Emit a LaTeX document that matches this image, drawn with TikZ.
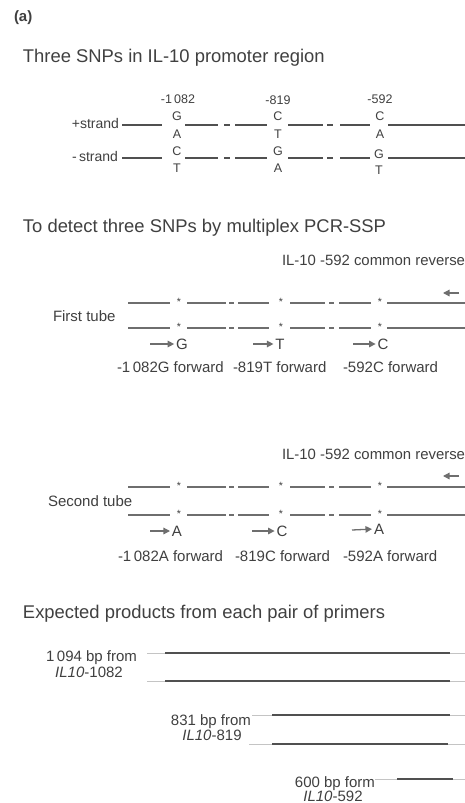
\documentclass[tikz,border=0pt]{standalone}
\usepackage{fontspec}
\setmainfont{Liberation Sans}
\usetikzlibrary{arrows.meta}
\definecolor{txtc}{HTML}{404040}
\definecolor{linec}{HTML}{505050}
\definecolor{tubec}{HTML}{6E6E6E}
\definecolor{faintc}{HTML}{C4C4C4}
\newcommand\myfs[1]{\fontsize{#1}{#1}\selectfont}
\begin{document}
\begin{tikzpicture}[x=1pt,y=-1pt,
  every node/.style={inner sep=0pt,outer sep=0pt,text=txtc},
  ttl/.style={anchor=base west,font=\myfs{18.4}},
  lbl/.style={font=\myfs{15}},
  nuc/.style={font=\myfs{12.5}},
  strl/.style={anchor=base east,font=\myfs{14}},
  star/.style={font=\myfs{10.5},anchor=base},
  sline/.style={draw=linec,line width=1.1pt},
  tline/.style={draw=tubec,line width=1.6pt},
  pline/.style={draw=linec,line width=1.5pt},
  fline/.style={draw=faintc,line width=1pt},
  fwd/.style={draw=tubec,line width=1.3pt,-{Triangle[length=6.5pt,width=6.5pt]},shorten >=2pt},
  rev/.style={draw=tubec,line width=1.3pt,-{Triangle[length=6.5pt,width=6.5pt]}},
]
\useasboundingbox (0,0) rectangle (465,803);
\fill[white] (0,0) rectangle (465,803);
\clip (0,0) rectangle (465,803);

% ---------- (a) and section 1 ----------
\node[anchor=base west,font=\bfseries\myfs{15}] (lab) at (14,21) {(a)};
\node[ttl] (t1) at (23,62) {Three SNPs in IL-10 promoter region};

\node[nuc] (n1082) at (178,99) {-1\,082};
\node[nuc] (n819) at (278,100) {-819};
\node[nuc] (n592) at (380,99) {-592};

\node[strl] (plus) at (119,128) {+strand};
\node[strl] (minus) at (118,161) {-\,strand};

\node[nuc] (pG1) at (177,116) {G};
\node[nuc] (pA1) at (177,134) {A};
\node[nuc] (pC2) at (278,116) {C};
\node[nuc] (pT2) at (278,134) {T};
\node[nuc] (pC3) at (380,116) {C};
\node[nuc] (pA3) at (380,134) {A};

\node[nuc] (mC1) at (177,151) {C};
\node[nuc] (mT1) at (177,168) {T};
\node[nuc] (mG2) at (278,151) {G};
\node[nuc] (mA2) at (278,168) {A};
\node[nuc] (mG3) at (379,154) {G};
\node[nuc] (mT3) at (379,170) {T};

\foreach \y in {125,158}{
  \foreach \a/\b in {122/162,185/218,224/230,235/267,288/323,327/333,340/370,388/470}
    \draw[sline] (\a,\y) -- (\b,\y);
}

% ---------- section 2 : first tube ----------
\node[ttl] (t2) at (23,232) {To detect three SNPs by multiplex PCR-SSP};
\node[lbl,anchor=base west,font=\myfs{14.9}] (rev1) at (282,265) {IL-10 -592 common reverse};
\coordinate (r1s) at (459,293);
\coordinate (r1e) at (443,293);
\draw[rev] (r1s) -- (r1e);

\node[lbl,anchor=base west] (tube1) at (53,321) {First tube};

\foreach \y in {303,328}{
  \foreach \a/\b in {128/170,187/226,229/234,238/269,290/325,329/334,339/371,387/470}
    \draw[tline] (\a,\y) -- (\b,\y);
  \foreach \x in {179,281,380}
    \node[star] at (\x,\y+2) {*};
}

\node[lbl] (f1G) at (182,344) {G};
\node[lbl] (f1T) at (280,344) {T};
\node[lbl] (f1C) at (383,344) {C};
\coordinate (a1G) at (150,344);
\coordinate (a1T) at (253,344);
\coordinate (a1C) at (353,344);
\draw[fwd] (a1G) -- (f1G.west);
\draw[fwd] (a1T) -- (f1T.west);
\draw[fwd] (a1C) -- (f1C.west);

\node[lbl,anchor=base west] (p1a) at (117,372) {-1\,082G forward};
\node[lbl,anchor=base west] (p1b) at (233,372) {-819T forward};
\node[lbl,anchor=base west] (p1c) at (343,372) {-592C forward};

% ---------- section 3 : second tube ----------
\node[lbl,anchor=base west,font=\myfs{14.9}] (rev2) at (282,459) {IL-10 -592 common reverse};
\coordinate (r2s) at (459,476);
\coordinate (r2e) at (443,476);
\draw[rev] (r2s) -- (r2e);

\node[lbl,anchor=base west] (tube2) at (48,506) {Second tube};

\foreach \y in {487,515}{
  \foreach \a/\b in {128/170,187/226,229/234,238/269,290/325,329/334,339/371,387/470}
    \draw[tline] (\a,\y) -- (\b,\y);
  \foreach \x in {179,281,380}
    \node[star] at (\x,\y+2) {*};
}

\node[lbl] (f2A) at (177,531) {A};
\node[lbl] (f2C) at (282,531) {C};
\node[lbl] (f2A3) at (379,529) {A};
\coordinate (a2A) at (150,531);
\coordinate (a2C) at (252,531);
\coordinate (a2A3) at (352,530);
\draw[fwd] (a2A) -- (f2A.west);
\draw[fwd] (a2C) -- (f2C.west);
\draw[fwd] (a2A3) -- (f2A3.west);

\node[lbl,anchor=base west] (p2a) at (118,561) {-1\,082A forward};
\node[lbl,anchor=base west] (p2b) at (235,561) {-819C forward};
\node[lbl,anchor=base west] (p2c) at (343,561) {-592A forward};

% ---------- section 4 : products ----------
\node[ttl] (t4) at (23,618) {Expected products from each pair of primers};

\node[lbl,anchor=base east] (pr1) at (137,661) {1\,094 bp from};
\node[lbl,anchor=base] (pr1b) at (89,677) {{\itshape IL10}-1082};
\node[lbl,anchor=base east] (pr2) at (251,725) {831 bp from};
\node[lbl,anchor=base] (pr2b) at (212,740) {{\itshape IL10}-819};
\node[lbl,anchor=base east] (pr3) at (375,787) {600 bp form};
\node[lbl,anchor=base] (pr3b) at (333,801) {{\itshape IL10}-592};

\foreach \y/\s/\m/\e in {653/147/165/450, 681/147/165/450, 715/252/272/450, 744/249/272/448, 779/375/397/453}{
  \draw[fline] (\s,\y) -- (\m,\y);
  \draw[pline] (\m,\y) -- (\e,\y);
  \draw[fline] (\e,\y) -- (470,\y);
}
\end{tikzpicture}
\end{document}
